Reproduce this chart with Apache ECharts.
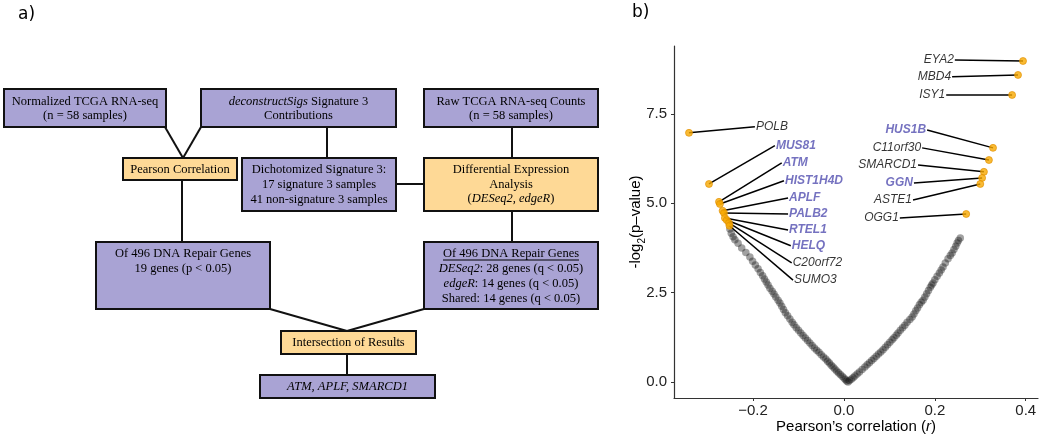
<!DOCTYPE html>
<html><head><meta charset="utf-8">
<script src="https://cdn.jsdelivr.net/npm/echarts@6/dist/echarts.min.js"></script>
<style>html,body{margin:0;padding:0;background:#fff}#c{width:1050px;height:438px}</style>
</head><body><div id="c"></div>
<script>
// ---------- data (panel b) ----------
const geneNames = ['EYA2','MBD4','ISY1','HUS1B','C11orf30','SMARCD1','GGN','ASTE1','OGG1','POLB','MUS81','ATM','HIST1H4D','APLF','PALB2','RTEL1','HELQ','C20orf72','SUMO3'];
const geneR     = [0.394,0.383,0.370,0.328,0.319,0.308,0.304,0.300,0.269,-0.341,-0.297,-0.275,-0.273,-0.267,-0.264,-0.262,-0.258,-0.253,-0.252];
const geneLogP  = [8.98,8.59,8.03,6.55,6.21,5.88,5.71,5.54,4.70,6.97,5.54,5.04,4.98,4.79,4.73,4.59,4.53,4.45,4.37];
const labelR    = [0.244,0.238,0.225,0.183,0.172,0.163,0.154,0.152,0.123,-0.196,-0.152,-0.137,-0.132,-0.123,-0.123,-0.123,-0.117,-0.115,-0.112];
const labelLogP = [9.01,8.54,8.03,7.05,6.55,6.07,5.57,5.09,4.59,7.14,6.61,6.13,5.63,5.15,4.70,4.25,3.81,3.33,2.85];
const highlighted = ['HUS1B','GGN','MUS81','ATM','HIST1H4D','APLF','PALB2','RTEL1','HELQ'];
const otherLeft = [[0.009,0.00],[0.006,0.03],[0.003,0.07],[0.000,0.11],[-0.004,0.16],[-0.008,0.21],[-0.012,0.26],[-0.016,0.31],[-0.020,0.36],[-0.024,0.42],[-0.028,0.47],[-0.032,0.53],[-0.036,0.58],[-0.040,0.64],[-0.045,0.70],[-0.050,0.76],[-0.055,0.83],[-0.060,0.89],[-0.065,0.95],[-0.070,1.02],[-0.075,1.09],[-0.080,1.16],[-0.085,1.23],[-0.090,1.30],[-0.095,1.37],[-0.100,1.45],[-0.105,1.52],[-0.110,1.60],[-0.114,1.67],[-0.119,1.76],[-0.124,1.85],[-0.129,1.94],[-0.133,2.03],[-0.137,2.12],[-0.141,2.21],[-0.145,2.29],[-0.150,2.38],[-0.154,2.46],[-0.158,2.54],[-0.163,2.62],[-0.167,2.71],[-0.171,2.80],[-0.175,2.88],[-0.179,2.97],[-0.184,3.06],[-0.189,3.17],[-0.195,3.27],[-0.201,3.38],[-0.207,3.50],[-0.216,3.62],[-0.225,3.75],[-0.233,3.88],[-0.240,3.98],[-0.244,4.06],[-0.248,4.16],[-0.251,4.28]];
const otherRight = [[0.012,0.04],[0.016,0.08],[0.020,0.12],[0.024,0.17],[0.029,0.22],[0.034,0.28],[0.040,0.35],[0.046,0.42],[0.051,0.48],[0.056,0.54],[0.061,0.60],[0.066,0.66],[0.071,0.72],[0.076,0.78],[0.081,0.84],[0.086,0.90],[0.091,0.97],[0.096,1.04],[0.101,1.11],[0.106,1.18],[0.110,1.24],[0.115,1.31],[0.119,1.37],[0.124,1.45],[0.129,1.52],[0.134,1.59],[0.139,1.67],[0.145,1.75],[0.150,1.82],[0.154,1.90],[0.158,1.99],[0.162,2.07],[0.166,2.16],[0.170,2.23],[0.174,2.29],[0.178,2.38],[0.182,2.47],[0.186,2.56],[0.190,2.65],[0.193,2.71],[0.196,2.77],[0.200,2.86],[0.205,2.96],[0.210,3.05],[0.214,3.13],[0.218,3.22],[0.223,3.33],[0.229,3.45],[0.234,3.54],[0.238,3.61],[0.242,3.71],[0.246,3.80],[0.249,3.89],[0.252,3.96],[0.256,4.03]];
const xTicks = [-0.2, 0, 0.2, 0.4];
const yTicks = [0, 2.5, 5, 7.5];

// ---------- flowchart text (panel a) ----------
const boxTexts = {
  norm: 'Normalized TCGA RNA-seq\n(n = 58 samples)',
  sigs: '{i|deconstructSigs} Signature 3\nContributions',
  raw: 'Raw TCGA RNA-seq Counts\n(n = 58 samples)',
  pearson: 'Pearson Correlation',
  dicho: 'Dichotomized Signature 3:\n17 signature 3 samples\n41 non-signature 3 samples',
  diff: 'Differential Expression\nAnalysis\n({i|DESeq2}, {i|edgeR})',
  corrRes: 'Of 496 DNA Repair Genes\n19 genes (p < 0.05)',
  deRes: 'Of 496 DNA Repair Genes\n{i|DESeq2}: 28 genes (q < 0.05)\n{i|edgeR}: 14 genes (q < 0.05)\nShared: 14 genes (q < 0.05)',
  inter: 'Intersection of Results',
  final: '{i|ATM, APLF, SMARCD1}'
};

const PURPLE = '#a9a3d4', YELLOW = '#fed996';
const SERIF = 'Liberation Serif';
const g = [];
function box(x, y, w, h, fill) {
  g.push({type:'rect', shape:{x:x, y:y, width:w, height:h}, style:{fill:fill, stroke:'#111', lineWidth:2}, z:10});
}
function txt(x, y, t, lh, va) {
  g.push({type:'text', x:x, y:y, z:20, style:{text:t, font:'12.5px "' + SERIF + '"', fill:'#000',
    textAlign:'center', textVerticalAlign: va || 'middle', lineHeight: lh || 14.5,
    rich:{i:{fontStyle:'italic', fontFamily:SERIF, fontSize:12.5, lineHeight: lh || 14.5}}}});
}
function ln(x1, y1, x2, y2) {
  g.push({type:'line', shape:{x1:x1, y1:y1, x2:x2, y2:y2}, style:{stroke:'#111', lineWidth:2}, z:5});
}
// connectors
ln(165,127,183,158); ln(201,127,183,158);
ln(327,127,327,158);
ln(182,180,182,242);
ln(396,184,424,184);
ln(512,127,512,158);
ln(512,211,512,242);
ln(270,309,347,331); ln(424,309,347,331);
ln(347,354,347,375);
// boxes
box(4,89,162,38,PURPLE);   txt(85,109,boxTexts.norm,14);
box(201,89,195,38,PURPLE); txt(298.5,109,boxTexts.sigs,14);
box(424,89,174,38,PURPLE); txt(511,109,boxTexts.raw,14);
box(123,158,114,22,YELLOW); txt(180,169.5,boxTexts.pearson);
box(242,158,154,53,PURPLE); txt(319,184.5,boxTexts.dicho,15);
box(424,158,174,53,YELLOW); txt(511,184.5,boxTexts.diff,14.5);
box(96,242,174,67,PURPLE);  txt(183,246,boxTexts.corrRes,15,'top');
box(424,242,174,67,PURPLE); txt(511,276,boxTexts.deRes,15);
g.push({type:'line', shape:{x1:443, y1:260, x2:579, y2:260}, style:{stroke:'#000', lineWidth:1}, z:21});
box(281,331,135,23,YELLOW); txt(348.5,343,boxTexts.inter);
box(260,375,175,23,PURPLE); txt(347.5,387,boxTexts.final);
// panel letters
g.push({type:'text', x:18, y:15, z:20, style:{text:'a)', font:'17px "DejaVu Sans"', fill:'#000', textAlign:'left', textVerticalAlign:'middle'}});
g.push({type:'text', x:632, y:13, z:20, style:{text:'b)', font:'17px "DejaVu Sans"', fill:'#000', textAlign:'left', textVerticalAlign:'middle'}});
// axis titles
g.push({type:'text', x:856, y:427, z:20, style:{text:'Pearson\u2019s correlation ({i|r})', font:'15px "Liberation Sans"', fill:'#000',
  textAlign:'center', textVerticalAlign:'middle', rich:{i:{fontStyle:'italic', fontFamily:'Liberation Sans', fontSize:15}}}});
g.push({type:'text', x:636, y:222, rotation:Math.PI/2, z:20, style:{text:'-log{s|2}(p\u2013value)', font:'15px "Liberation Sans"', fill:'#000',
  textAlign:'center', textVerticalAlign:'middle', lineHeight:22,
  rich:{s:{fontFamily:'Liberation Sans', fontSize:10, verticalAlign:'bottom', lineHeight:12}}}});

// ---------- chart ----------
const chart = echarts.init(document.getElementById('c'), null, {renderer:'canvas'});
const labelData = geneNames.map((n, i) => {
  const toRight = labelR[i] > geneR[i];
  const hi = highlighted.indexOf(n) >= 0;
  return {name:n, value:[labelR[i], labelLogP[i]], label:{
    position: toRight ? 'right' : 'left', distance: 1,
    color: hi ? '#524fb0' : '#000', fontWeight: hi ? 'bold' : 'normal'}};
});
const tickFmt = v => (v < 0 ? '\u2212' : '') + Math.abs(v).toFixed(1);
chart.setOption({
  animation:false,
  backgroundColor:'#fff',
  graphic: g,
  grid:{left:674, top:46, right:12, bottom:40, containLabel:false, outerBoundsMode:'none'},
  xAxis:{type:'value', min:-0.374, max:0.427, splitLine:{show:false},
    axisLine:{show:true, onZero:false, lineStyle:{color:'#333', width:1.2}},
    axisTick:{show:true, length:3, lineStyle:{color:'#333'}, customValues:xTicks},
    axisLabel:{customValues:xTicks, formatter:tickFmt, fontFamily:'Liberation Sans', fontSize:15, color:'#222', margin:5}},
  yAxis:{type:'value', min:-0.448, max:9.40, splitLine:{show:false},
    axisLine:{show:true, onZero:false, lineStyle:{color:'#333', width:1.2}},
    axisTick:{show:true, length:3, lineStyle:{color:'#333'}, customValues:yTicks},
    axisLabel:{customValues:yTicks, formatter:v => v.toFixed(1), fontFamily:'Liberation Sans', fontSize:15, color:'#222', margin:7}},
  series:[
    {type:'scatter', data: otherLeft.concat(otherRight), symbolSize:7.5, z:2, silent:true,
      itemStyle:{color:'rgba(20,20,20,0.5)'}},
    {type:'custom', z:3, silent:true,
      data: geneNames.map((n, i) => [geneR[i], geneLogP[i], labelR[i], labelLogP[i]]),
      encode:{x:[0,2], y:[1,3]},
      renderItem:(params, api) => {
        const p1 = api.coord([api.value(0), api.value(1)]);
        const p2 = api.coord([api.value(2), api.value(3)]);
        return {type:'line', shape:{x1:p1[0], y1:p1[1], x2:p2[0], y2:p2[1]}, style:{stroke:'#000', lineWidth:1.5}};
      }},
    {type:'scatter', z:4, silent:true, symbolSize:7,
      data: geneNames.map((n, i) => [geneR[i], geneLogP[i]]),
      itemStyle:{color:'#f8a900', borderColor:'#e08e00', borderWidth:0.8}},
    {type:'scatter', z:5, silent:true, symbolSize:0, data: labelData,
      label:{show:true, formatter:'{b}', fontFamily:'Liberation Sans', fontStyle:'italic', fontSize:12}}
  ]
});
</script></body></html>
